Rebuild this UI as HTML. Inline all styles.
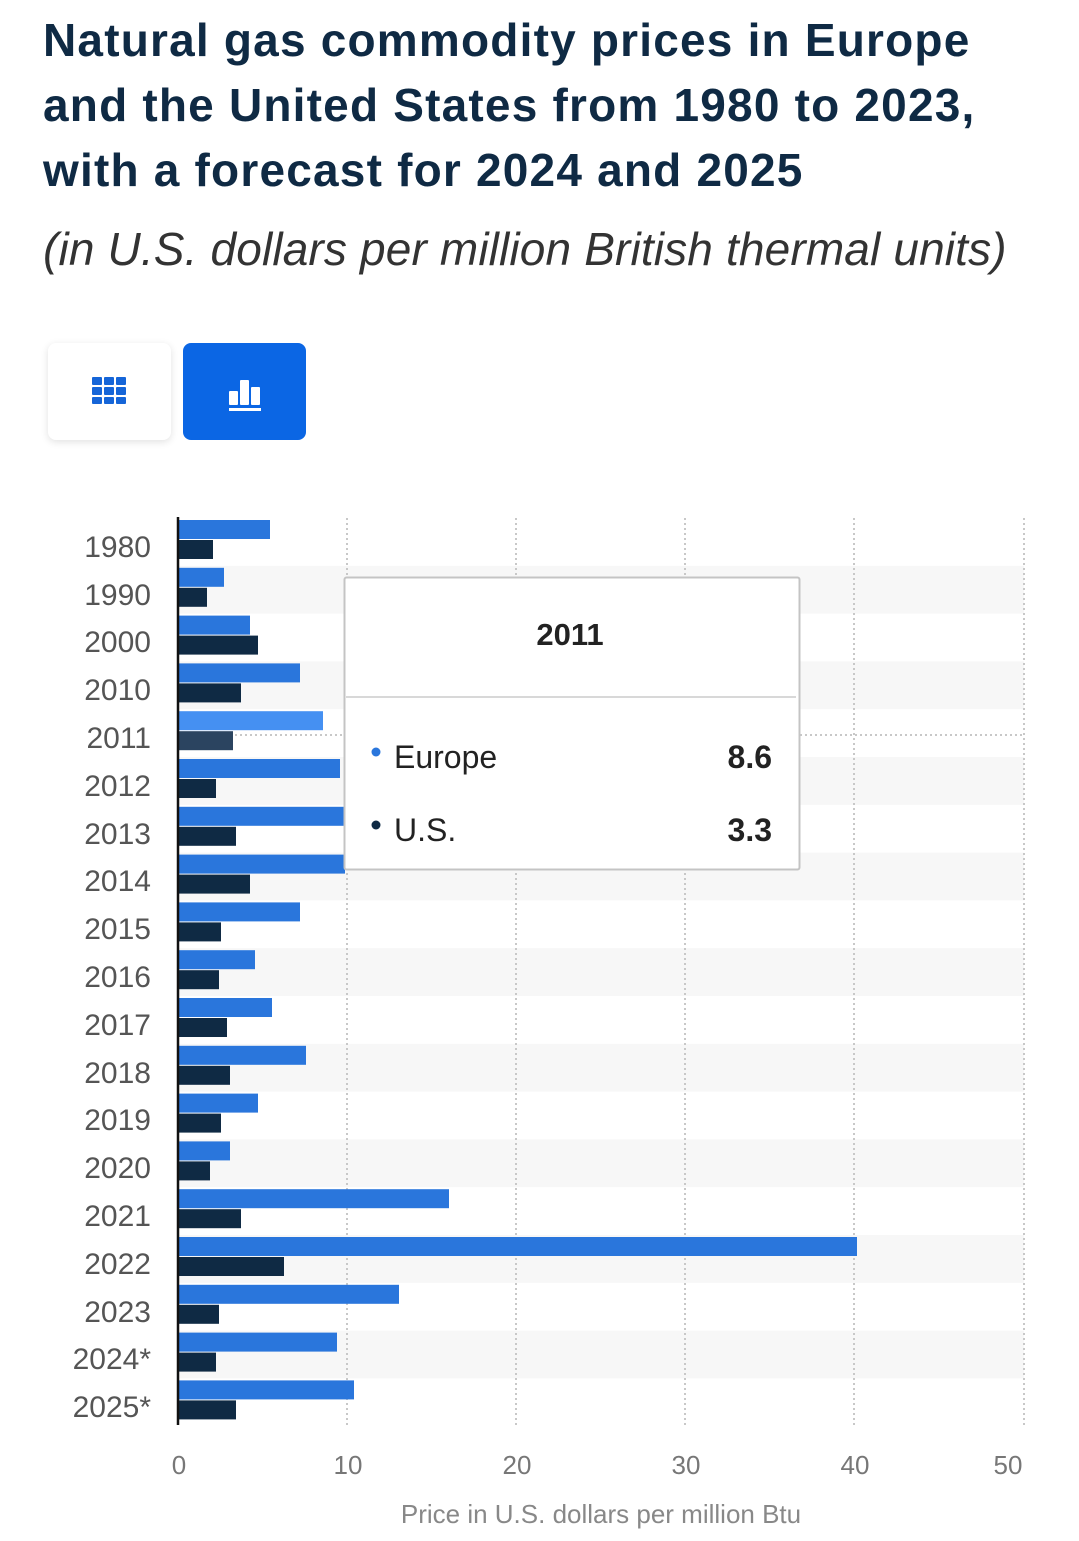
<!DOCTYPE html>
<html><head><meta charset="utf-8"><style>
body{margin:0;background:#fff;width:1079px;height:1541px;overflow:hidden;font-family:"Liberation Sans",sans-serif}
.t{position:absolute;left:43px;top:8px;font-weight:bold;font-size:46px;line-height:65px;color:#0f2a44;letter-spacing:1.2px;white-space:nowrap}
.s{position:absolute;left:43px;top:222px;font-style:italic;font-size:46px;color:#333;letter-spacing:0.15px;white-space:nowrap}
.b1{position:absolute;left:48px;top:343px;width:123px;height:97px;border-radius:8px;background:#fff;box-shadow:0 2px 8px rgba(0,0,0,.12)}
.b2{position:absolute;left:183px;top:343px;width:123px;height:97px;border-radius:8px;background:#0b66e4}
</style></head><body>
<div class="t">Natural gas commodity prices in Europe<br>and the United States from 1980 to 2023,<br>with a forecast for 2024 and 2025</div>
<div class="s">(in U.S. dollars per million British thermal units)</div>
<div class="b1"><svg width="123" height="97"><g fill="#1565d8"><rect x="44" y="34" width="10" height="8" rx="1"/><rect x="56" y="34" width="10" height="8" rx="1"/><rect x="68" y="34" width="10" height="8" rx="1"/><rect x="44" y="44" width="10" height="8" rx="1"/><rect x="56" y="44" width="10" height="8" rx="1"/><rect x="68" y="44" width="10" height="8" rx="1"/><rect x="44" y="54" width="10" height="7" rx="1"/><rect x="56" y="54" width="10" height="7" rx="1"/><rect x="68" y="54" width="10" height="7" rx="1"/></g></svg></div>
<div class="b2"><svg width="123" height="97"><g fill="#fff"><rect x="46" y="48" width="9" height="14" rx="1"/><rect x="57" y="37" width="9" height="25" rx="1"/><rect x="68" y="44" width="9" height="18" rx="1"/><rect x="46" y="65" width="32" height="3"/></g></svg></div>
<svg style="position:absolute;left:0;top:0" width="1079" height="1541">
<g fill="#f7f7f7">
<rect x="179" y="565.8" width="845" height="47.8"/><rect x="179" y="661.4" width="845" height="47.8"/><rect x="179" y="757" width="845" height="47.8"/><rect x="179" y="852.6" width="845" height="47.8"/><rect x="179" y="948.2" width="845" height="47.8"/><rect x="179" y="1043.8" width="845" height="47.8"/><rect x="179" y="1139.4" width="845" height="47.8"/><rect x="179" y="1235" width="845" height="47.8"/><rect x="179" y="1330.6" width="845" height="47.8"/>
</g>
<g stroke="#c8c8c8" stroke-width="2" stroke-dasharray="2,3">
<line x1="347" y1="518" x2="347" y2="1425"/><line x1="516" y1="518" x2="516" y2="1425"/><line x1="685" y1="518" x2="685" y2="1425"/><line x1="854" y1="518" x2="854" y2="1425"/><line x1="1024" y1="518" x2="1024" y2="1425"/>
<line x1="235" y1="735" x2="1024" y2="735"/>
</g>
<g id="bars">
<g><rect x="179" y="520" width="91" height="19" fill="#2a76dc"/><rect x="179" y="540" width="34" height="19" fill="#0f2a44"/></g>
<g transform="translate(0,47.8)"><rect x="179" y="520" width="45" height="19" fill="#2a76dc"/><rect x="179" y="540" width="28" height="19" fill="#0f2a44"/></g>
<g transform="translate(0,95.6)"><rect x="179" y="520" width="71" height="19" fill="#2a76dc"/><rect x="179" y="540" width="79" height="19" fill="#0f2a44"/></g>
<g transform="translate(0,143.4)"><rect x="179" y="520" width="121" height="19" fill="#2a76dc"/><rect x="179" y="540" width="62" height="19" fill="#0f2a44"/></g>
<g transform="translate(0,191.2)"><rect x="179" y="520" width="144" height="19" fill="#4590f2"/><rect x="179" y="540" width="54" height="19" fill="#2b4460"/></g>
<g transform="translate(0,239)"><rect x="179" y="520" width="161" height="19" fill="#2a76dc"/><rect x="179" y="540" width="37" height="19" fill="#0f2a44"/></g>
<g transform="translate(0,286.8)"><rect x="179" y="520" width="166" height="19" fill="#2a76dc"/><rect x="179" y="540" width="57" height="19" fill="#0f2a44"/></g>
<g transform="translate(0,334.6)"><rect x="179" y="520" width="166" height="19" fill="#2a76dc"/><rect x="179" y="540" width="71" height="19" fill="#0f2a44"/></g>
<g transform="translate(0,382.4)"><rect x="179" y="520" width="121" height="19" fill="#2a76dc"/><rect x="179" y="540" width="42" height="19" fill="#0f2a44"/></g>
<g transform="translate(0,430.2)"><rect x="179" y="520" width="76" height="19" fill="#2a76dc"/><rect x="179" y="540" width="40" height="19" fill="#0f2a44"/></g>
<g transform="translate(0,478)"><rect x="179" y="520" width="93" height="19" fill="#2a76dc"/><rect x="179" y="540" width="48" height="19" fill="#0f2a44"/></g>
<g transform="translate(0,525.8)"><rect x="179" y="520" width="127" height="19" fill="#2a76dc"/><rect x="179" y="540" width="51" height="19" fill="#0f2a44"/></g>
<g transform="translate(0,573.6)"><rect x="179" y="520" width="79" height="19" fill="#2a76dc"/><rect x="179" y="540" width="42" height="19" fill="#0f2a44"/></g>
<g transform="translate(0,621.4)"><rect x="179" y="520" width="51" height="19" fill="#2a76dc"/><rect x="179" y="540" width="31" height="19" fill="#0f2a44"/></g>
<g transform="translate(0,669.2)"><rect x="179" y="520" width="270" height="19" fill="#2a76dc"/><rect x="179" y="540" width="62" height="19" fill="#0f2a44"/></g>
<g transform="translate(0,717)"><rect x="179" y="520" width="678" height="19" fill="#2a76dc"/><rect x="179" y="540" width="105" height="19" fill="#0f2a44"/></g>
<g transform="translate(0,764.8)"><rect x="179" y="520" width="220" height="19" fill="#2a76dc"/><rect x="179" y="540" width="40" height="19" fill="#0f2a44"/></g>
<g transform="translate(0,812.6)"><rect x="179" y="520" width="158" height="19" fill="#2a76dc"/><rect x="179" y="540" width="37" height="19" fill="#0f2a44"/></g>
<g transform="translate(0,860.4)"><rect x="179" y="520" width="175" height="19" fill="#2a76dc"/><rect x="179" y="540" width="57" height="19" fill="#0f2a44"/></g>
</g>
<line x1="178" y1="517" x2="178" y2="1425" stroke="#111" stroke-width="2.5"/>
<g font-family="Liberation Sans, sans-serif" font-size="30" fill="#555" text-anchor="end">
<text x="151" y="557">1980</text><text x="151" y="605">1990</text><text x="151" y="652">2000</text><text x="151" y="700">2010</text><text x="151" y="748">2011</text><text x="151" y="796">2012</text><text x="151" y="844">2013</text><text x="151" y="891">2014</text><text x="151" y="939">2015</text><text x="151" y="987">2016</text><text x="151" y="1035">2017</text><text x="151" y="1083">2018</text><text x="151" y="1130">2019</text><text x="151" y="1178">2020</text><text x="151" y="1226">2021</text><text x="151" y="1274">2022</text><text x="151" y="1322">2023</text><text x="151" y="1369">2024*</text><text x="151" y="1417">2025*</text>
</g>
<g font-family="Liberation Sans, sans-serif" font-size="26" fill="#777" text-anchor="middle">
<text x="179" y="1474">0</text><text x="348" y="1474">10</text><text x="517" y="1474">20</text><text x="686" y="1474">30</text><text x="855" y="1474">40</text><text x="1008" y="1474">50</text>
<text x="601" y="1523" fill="#888">Price in U.S. dollars per million Btu</text>
</g>
<rect x="344.5" y="577.5" width="455" height="292" fill="#fff" stroke="#c4c4c4" stroke-width="2" rx="2"/>
<line x1="346" y1="697" x2="796" y2="697" stroke="#ccc" stroke-width="1.5"/>
<g font-family="Liberation Sans, sans-serif" fill="#222">
<text x="570" y="645" font-size="31" font-weight="bold" text-anchor="middle">2011</text>
<circle cx="376" cy="752" r="4.5" fill="#2a76dc"/><text x="394" y="768" font-size="32">Europe</text>
<text x="772" y="768" font-size="32" font-weight="bold" text-anchor="end">8.6</text>
<circle cx="376" cy="825" r="4.5" fill="#0f2a44"/><text x="394" y="841" font-size="32">U.S.</text>
<text x="772" y="841" font-size="32" font-weight="bold" text-anchor="end">3.3</text>
</g>
</svg>
</body></html>
